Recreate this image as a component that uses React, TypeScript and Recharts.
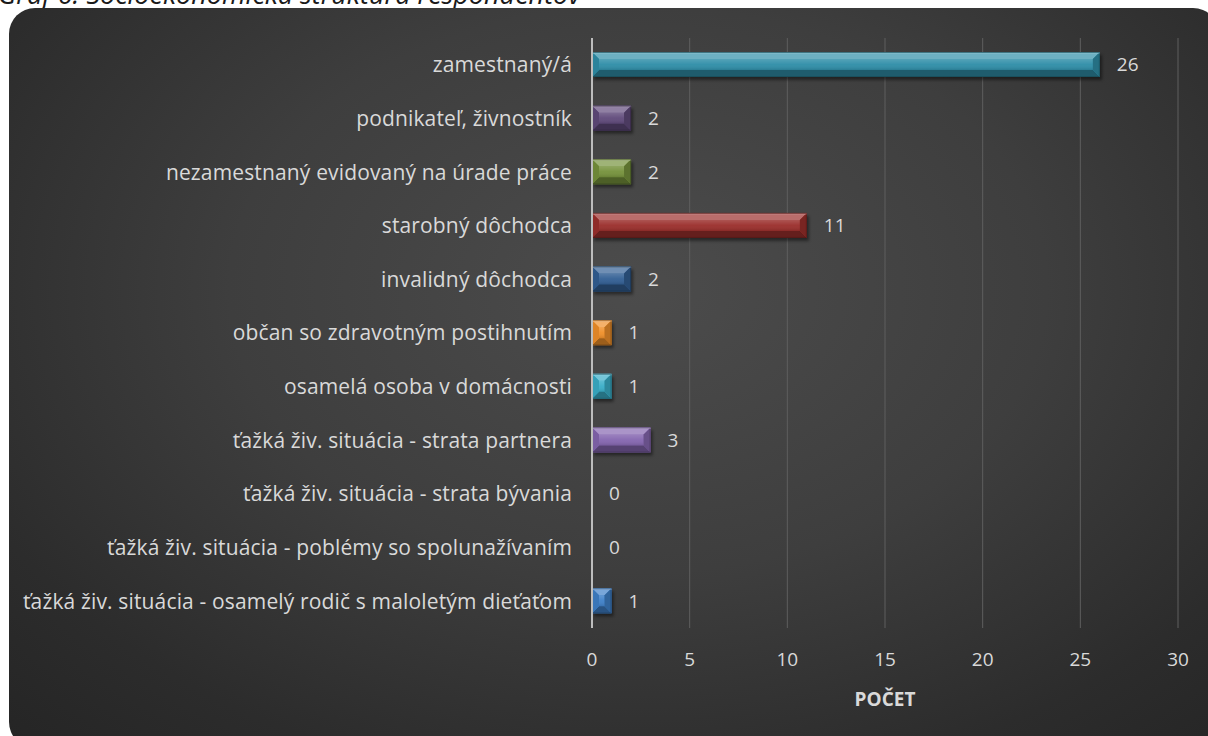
import React from "react";
import {
  Bar,
  BarChart,
  CartesianGrid,
  Label,
  LabelList,
  XAxis,
  YAxis,
} from "recharts";

const TITLE = "Graf 6: Socioekonomická štruktúra respondentov";
const AXIS_TITLE = "POČET";

const CATEGORIES = [
  "zamestnaný/á",
  "podnikateľ, živnostník",
  "nezamestnaný evidovaný na úrade práce",
  "starobný dôchodca",
  "invalidný dôchodca",
  "občan so zdravotným postihnutím",
  "osamelá osoba v domácnosti",
  "ťažká živ. situácia - strata partnera",
  "ťažká živ. situácia - strata bývania",
  "ťažká živ. situácia - poblémy so spolunažívaním",
  "ťažká živ. situácia - osamelý rodič s maloletým dieťaťom",
];
const VALUES = [26, 2, 2, 11, 2, 1, 1, 3, 0, 0, 1];
const COLORS = [
  "#2f8ea8",
  "#604a7b",
  "#76923c",
  "#9b2f2c",
  "#325f94",
  "#f0902a",
  "#3aaec8",
  "#8566b0",
  "#4f81bd",
  "#4f81bd",
  "#3f80c8",
];
const X_TICKS = [0, 5, 10, 15, 20, 25, 30];

const data = CATEGORIES.map((name, i) => ({
  name,
  value: VALUES[i],
  color: COLORS[i],
}));

const FONT = "'Open Sans', sans-serif";
const TEXT = "#d9d9d9";

// mix a hex colour toward white (amt > 0) or black (amt < 0)
function shade(hex: string, amt: number) {
  const n = parseInt(hex.slice(1), 16);
  const ch = [(n >> 16) & 255, (n >> 8) & 255, n & 255].map((v) =>
    Math.round(amt > 0 ? v + (255 - v) * amt : v * (1 + amt))
  );
  return `rgb(${ch.join(",")})`;
}

/** Office-style bevelled bar: light top edge, dark bottom/right edges. */
function BevelBar(props: any) {
  const { x, y, width, height, payload } = props;
  if (!width || width <= 0) return null;
  const c = payload.color;
  const b = Math.min(7, width / 2, height / 2);
  const x2 = x + width;
  const y2 = y + height;
  return (
    <g>
      <rect
        x={x + 2}
        y={y + 3}
        width={width}
        height={height}
        fill="#000"
        opacity={0.45}
        filter="url(#barShadow)"
      />
      <rect x={x} y={y} width={width} height={height} fill={c} />
      <rect
        x={x + b}
        y={y + b}
        width={Math.max(0, width - 2 * b)}
        height={Math.max(0, height - 2 * b)}
        fill="url(#faceGloss)"
      />
      <polygon
        points={`${x},${y} ${x2},${y} ${x2 - b},${y + b} ${x + b},${y + b}`}
        fill={shade(c, 0.3)}
      />
      <polygon
        points={`${x},${y2} ${x2},${y2} ${x2 - b},${y2 - b} ${x + b},${y2 - b}`}
        fill={shade(c, -0.35)}
      />
      <polygon
        points={`${x2},${y} ${x2},${y2} ${x2 - b},${y2 - b} ${x2 - b},${y + b}`}
        fill={shade(c, -0.22)}
      />
      <polygon
        points={`${x},${y} ${x},${y2} ${x + b},${y2 - b} ${x + b},${y + b}`}
        fill={shade(c, -0.08)}
      />
      <line x1={x} y1={y + 1} x2={x2} y2={y + 1} stroke={shade(c, 0.45)} strokeWidth={1} />
      <rect
        x={x + 0.5}
        y={y + 0.5}
        width={width - 1}
        height={height - 1}
        fill="none"
        stroke={shade(c, -0.5)}
        strokeWidth={1}
        opacity={0.6}
      />
    </g>
  );
}

export default function App() {
  return (
    <div
      style={{
        position: "absolute",
        left: 0,
        top: 0,
        width: 1208,
        height: 736,
        overflow: "hidden",
        background: "#fff",
      }}
    >
      <svg
        width={1208}
        height={20}
        style={{ position: "absolute", left: 0, top: 0 }}
      >
        <text
          x={-2}
          y={4}
          fontFamily={FONT}
          fontStyle="italic"
          fontSize={27}
          fill="#1a1a1a"
        >
          {TITLE}
        </text>
      </svg>
      <div
        style={{
          position: "absolute",
          left: 9,
          top: 8,
          width: 1210,
          height: 740,
          borderRadius: 26,
          background:
            "radial-gradient(ellipse 75% 85% at 52% 38%, #4c4c4c 0%, #3e3e3e 45%, #2c2c2c 80%, #252525 100%)",
        }}
      />
      <div style={{ position: "absolute", left: 0, top: 0 }}>
        <BarChart
          width={1208}
          height={736}
          data={data}
          layout="vertical"
          margin={{ top: 38, right: 30, left: 0, bottom: 0 }}
          barSize={25}
        >
          <defs>
            <filter id="barShadow" x="-20%" y="-50%" width="140%" height="200%">
              <feGaussianBlur stdDeviation="1.5" />
            </filter>
            <linearGradient id="faceGloss" x1="0" y1="0" x2="0" y2="1">
              <stop offset="0%" stopColor="#fff" stopOpacity={0.18} />
              <stop offset="50%" stopColor="#fff" stopOpacity={0.04} />
              <stop offset="100%" stopColor="#000" stopOpacity={0.12} />
            </linearGradient>
          </defs>
          <CartesianGrid horizontal={false} stroke="#5e5e5e" strokeWidth={1} />
          <XAxis
            type="number"
            domain={[0, 30]}
            ticks={X_TICKS}
            axisLine={false}
            tickLine={false}
            height={108}
            tickMargin={19}
            tick={{ fill: TEXT, fontSize: 19, fontFamily: FONT }}
          >
            <Label
              value={AXIS_TITLE}
              position="insideBottom"
              offset={30}
              fill={TEXT}
              fontSize={19}
              fontWeight="bold"
              fontFamily={FONT}
            />
          </XAxis>
          <YAxis
            type="category"
            dataKey="name"
            width={592}
            axisLine={{ stroke: "#bdbdbd", strokeWidth: 2 }}
            tickLine={false}
            tickSize={0}
            tickMargin={20}
            interval={0}
            tick={{ fill: TEXT, fontSize: 21, fontFamily: FONT, letterSpacing: 0.15 }}
          />
          <Bar
            dataKey="value"
            shape={<BevelBar />}
            isAnimationActive={false}
          >
            <LabelList
              dataKey="value"
              position="right"
              offset={17}
              fill={TEXT}
              fontSize={19}
              fontFamily={FONT}
            />
          </Bar>
        </BarChart>
      </div>
    </div>
  );
}
